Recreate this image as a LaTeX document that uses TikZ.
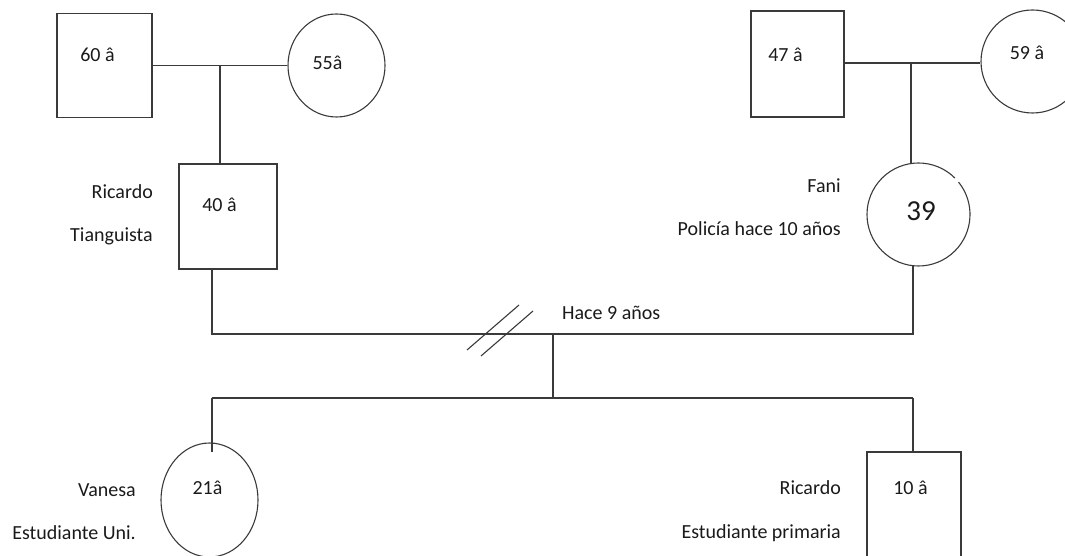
\documentclass[tikz,border=0pt]{standalone}
\usepackage{fontspec}
\setmainfont{Carlito}
\usetikzlibrary{shapes.geometric}
\definecolor{ln}{HTML}{3A3A3A}
\definecolor{tx}{HTML}{1A1A1A}
\begin{document}
\begin{tikzpicture}[x=1pt,y=1pt,
  male/.style={draw=ln,line width=1.1pt,rectangle,inner sep=0pt,minimum width=#1},
  female/.style={draw=ln,line width=1.1pt,ellipse,inner sep=0pt},
  lbl/.style={inner sep=0pt,text=tx,font=\fontsize{20}{24}\selectfont,text height=13pt,text depth=0pt},
  rlbl/.style={lbl,anchor=east},
  conn/.style={draw=ln,line width=1.1pt}
]
\useasboundingbox (0,0) rectangle (1065,556);
\clip (0,0) rectangle (1065,556);
% grandparents left
\node[male=95pt,minimum height=104pt] (sq60) at (104.5,490.5) {};
\node[lbl] (t60) at (97.5,501) {60 â};
\node[female,minimum width=97pt,minimum height=103pt] (c55) at (336.5,490.5) {};
\node[lbl] (t55) at (327.5,493) {55â};
% Ricardo
\node[male=98pt,minimum height=105pt] (sq40) at (228,339.5) {};
\node[lbl] (t40) at (219.5,351) {40 â};
\node[rlbl] (ric1) at (153,364) {Ricardo};
\node[rlbl] (tian) at (153,321) {Tianguista};
% grandparents right
\node[male=93pt,minimum height=106pt] (sq47) at (797.5,492) {};
\node[lbl] (t47) at (785.5,501) {47 â};
\node[female,minimum width=103pt,minimum height=103pt] (c59) at (1032.5,494.5) {};
\node[lbl] (t59) at (1027,503) {59 â};
% Fani
\node[circle,inner sep=0pt,minimum size=103pt] (c39) at (918.5,341.5) {};
\draw[ln,line width=1.1pt] ([shift={(45:51.5pt)}]c39.center) arc[start angle=45,end angle=399,radius=51.5pt];
\node[lbl,font=\fontsize{29}{34}\selectfont,text height=19pt] (t39) at (921,345) {39};
\node[rlbl] (fani) at (841,370) {Fani};
\node[rlbl] (poli) at (841,327) {Policía hace 10 años};
% children
\node[female,minimum width=97pt,minimum height=114pt] (e21) at (209.5,56) {};
\node[lbl] (t21) at (207.5,68) {21â};
\node[rlbl] (van) at (136,66) {Vanesa};
\node[rlbl] (euni) at (136,23) {Estudiante Uni.};
\node[male=94pt,minimum height=105pt] (sq10) at (914,51.5) {};
\node[lbl] (t10) at (910.5,68) {10 â};
\node[rlbl] (ric2) at (841,68) {Ricardo};
\node[rlbl] (eprim) at (841,24) {Estudiante primaria};
\node[lbl,anchor=west] (hace) at (562,243) {Hace 9 años};
% coordinates
\coordinate (tl) at (220,490.5);
\coordinate (tr) at (911,493);
\coordinate (mL) at (212,222);
\coordinate (mR) at (913,222);
\coordinate (mM) at (553,222);
\coordinate (cM) at (553,158);
\coordinate (cL) at (212,158);
\coordinate (cR) at (913,158);
\coordinate (cLd) at (212,104);
% connectors
\draw[conn] (sq60.east) -- (c55.west);
\draw[conn] (tl) -- (sq40.north -| tl);
\draw[conn] (sq47.east |- tr) -- (c59.west |- tr);
\draw[conn] (tr) -- (c39.north -| tr);
\draw[conn] (sq40.south -| mL) -- (mL) -- (mR) -- (c39.south -| mR);
\draw[conn] (mM) -- (cM);
\draw[conn] (cL) -- (cR);
\draw[conn] (cL) -- (cLd);
\draw[conn] (cR) -- (sq10.north -| cR);
% divorce slashes
\draw[conn] (467,206) -- (519,251);
\draw[conn] (481,200) -- (533,245);
\end{tikzpicture}
\end{document}
